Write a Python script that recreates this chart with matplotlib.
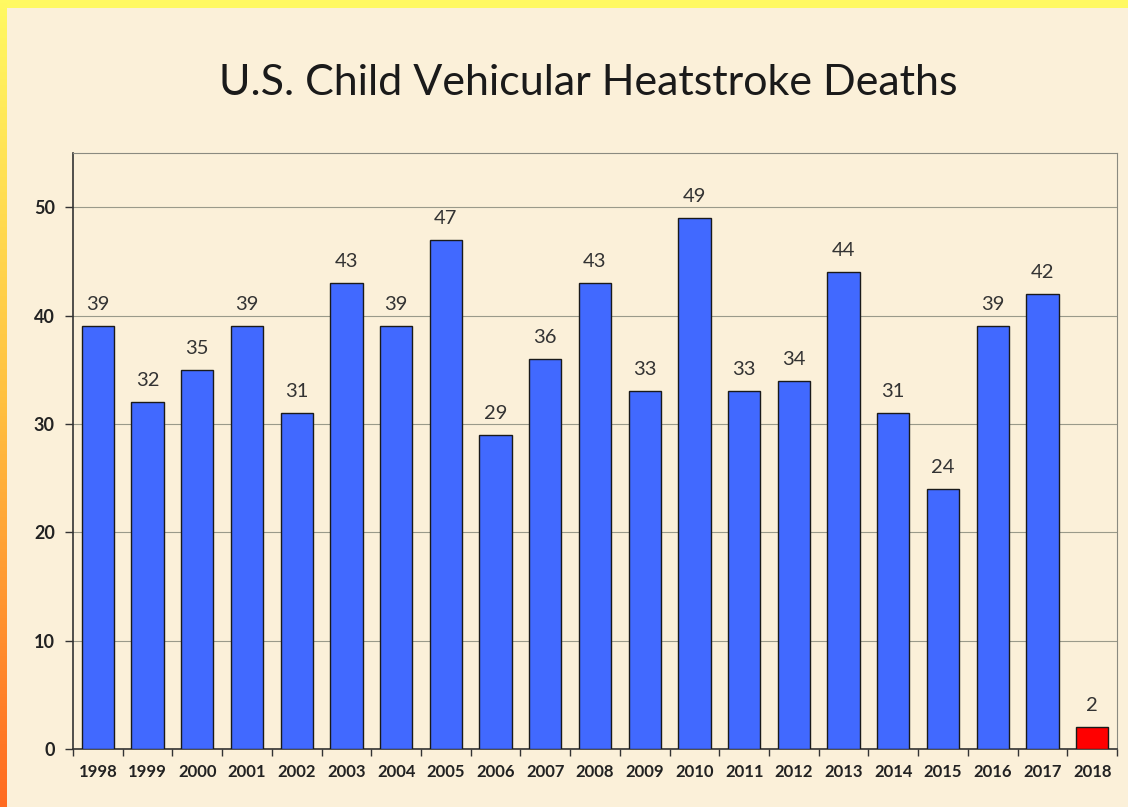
import matplotlib.pyplot as plt
import numpy as np
from matplotlib.colors import LinearSegmentedColormap

years = ["1998", "1999", "2000", "2001", "2002", "2003", "2004", "2005", "2006", "2007",
         "2008", "2009", "2010", "2011", "2012", "2013", "2014", "2015", "2016", "2017", "2018"]
deaths = [39, 32, 35, 39, 31, 43, 39, 47, 29, 36, 43, 33, 49, 33, 34, 44, 31, 24, 39, 42, 2]
bar_colors = ["#4169FF"] * 20 + ["#FF0000"]

BG = "#FBF0D9"

fig = plt.figure(figsize=(11.28, 8.07), dpi=100)
fig.patch.set_facecolor(BG)

# frame: yellow top strip, yellow->orange left strip
top = fig.add_axes([0, 1 - 8 / 807, 1, 8 / 807])
top.set_facecolor("#FFF962")
top.set_xticks([])
top.set_yticks([])
for s in top.spines.values():
    s.set_visible(False)

left = fig.add_axes([0, 0, 7 / 1128, 1])
grad = np.linspace(0, 1, 256).reshape(-1, 1)
cmap = LinearSegmentedColormap.from_list("edge", ["#FFF962", "#FFC040", "#FF6A20"])
left.imshow(grad, aspect="auto", cmap=cmap, extent=[0, 1, 0, 1], origin="upper")
left.set_axis_off()

ax = fig.add_axes([73 / 1128, 1 - 749 / 807, (1117 - 73) / 1128, (749 - 153) / 807])
ax.set_facecolor("none")

x = np.arange(len(years))
ax.bar(x, deaths, width=0.65, color=bar_colors, edgecolor="#1a1a1a", linewidth=1.0, zorder=3)

for xi, v in zip(x, deaths):
    ax.text(xi, v + 1.2, str(v), ha="center", va="bottom", fontsize=14.5,
            color="#333333", family="Lato", zorder=4)

ax.set_xlim(-0.5, len(years) - 0.5)
ax.set_ylim(0, 55)
ax.set_yticks([0, 10, 20, 30, 40, 50])
ax.yaxis.grid(True, color="#9a9a8a", linewidth=0.8, zorder=0)
ax.set_axisbelow(True)

ax.set_xticks(x)
ax.set_xticklabels(years, fontsize=12, fontweight="bold", family="Lato", color="#222222")
ax.set_xticks(np.arange(-0.5, len(years), 1), minor=True)
ax.tick_params(axis="x", which="major", length=0, pad=11)
ax.tick_params(axis="x", which="minor", length=5, width=1, color="#333333", direction="out")
ax.tick_params(axis="y", length=6, width=1, color="#333333", direction="out", pad=7)
for lbl in ax.get_yticklabels():
    lbl.set_fontsize(13)
    lbl.set_fontweight("bold")
    lbl.set_family("Lato")
    lbl.set_color("#222222")

ax.spines["left"].set_color("#333333")
ax.spines["bottom"].set_color("#333333")
ax.spines["top"].set_color("#8a8a80")
ax.spines["right"].set_color("#8a8a80")
ax.spines["left"].set_linewidth(1.2)
ax.spines["bottom"].set_linewidth(1.2)

fig.text(588 / 1128, 1 - 83 / 807, "U.S. Child Vehicular Heatstroke Deaths", ha="center", va="center",
         fontsize=31, family="Lato", color="#1a1a1a")

fig.savefig("out.png", dpi=100, facecolor=BG)
